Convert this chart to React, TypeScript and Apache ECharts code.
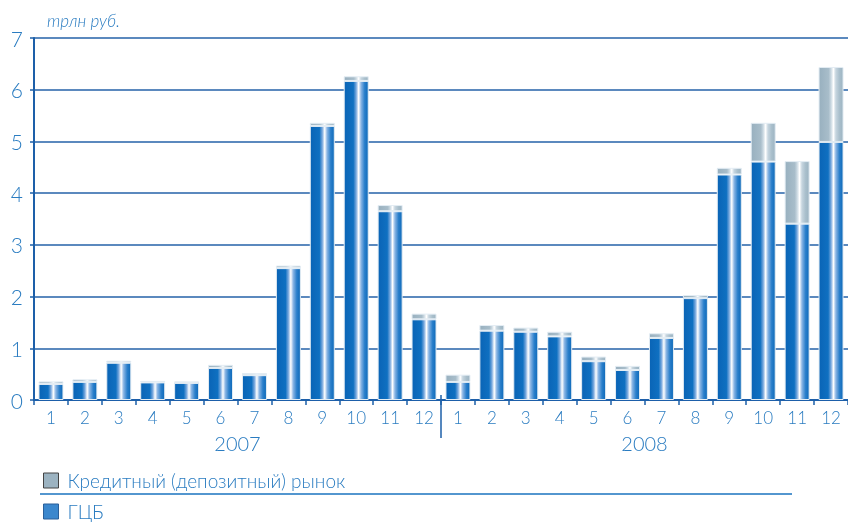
import React, { useEffect, useRef } from 'react';
import * as echarts from 'echarts';

const months = ['1', '2', '3', '4', '5', '6', '7', '8', '9', '10', '11', '12', '1', '2', '3', '4', '5', '6', '7', '8', '9', '10', '11', '12'];
const years = ['2007', '2008'];
const gcbValues = [0.31, 0.35, 0.72, 0.34, 0.33, 0.62, 0.48, 2.55, 5.3, 6.17, 3.65, 1.56, 0.35, 1.34, 1.32, 1.23, 0.75, 0.58, 1.2, 1.97, 4.36, 4.61, 3.41, 4.99];
const creditValues = [0.05, 0.05, 0.04, 0.03, 0.03, 0.06, 0.04, 0.05, 0.06, 0.09, 0.12, 0.11, 0.14, 0.11, 0.08, 0.09, 0.09, 0.08, 0.09, 0.06, 0.13, 0.75, 1.21, 1.45];
const seriesNames = ['ГЦБ', 'Кредитный (депозитный) рынок'];
const unitLabel = 'трлн руб.';

const AXIS = '#1d5fa9';
const TEXT = '#2a7cc1';
const FONT = 'Lato, "Noto Sans", sans-serif';

export default function App() {
  const ref = useRef<HTMLDivElement>(null);
  useEffect(() => {
    if (!ref.current) return;
    const chart = echarts.init(ref.current, undefined, { renderer: 'svg' });
    const blueGrad = new echarts.graphic.LinearGradient(0, 0, 1, 0, [
      { offset: 0, color: '#0a64b6' },
      { offset: 0.38, color: '#0f70c1' },
      { offset: 0.5, color: '#7aa9de' },
      { offset: 0.6, color: '#ffffff' },
      { offset: 0.7, color: '#8ab5e4' },
      { offset: 0.85, color: '#2a7fcb' },
      { offset: 1, color: '#0d69b9' },
    ]);
    const grayGrad = new echarts.graphic.LinearGradient(0, 0, 1, 0, [
      { offset: 0, color: '#98b0bf' },
      { offset: 0.4, color: '#a8bdca' },
      { offset: 0.5, color: '#cbd9e2' },
      { offset: 0.6, color: '#ffffff' },
      { offset: 0.7, color: '#c6d5df' },
      { offset: 0.85, color: '#a9bfcc' },
      { offset: 1, color: '#9db4c2' },
    ]);
    const legendText = { color: TEXT, fontSize: 19, fontFamily: FONT, fontWeight: 300 as any, padding: [0, 0, 0, 4] };
    chart.setOption({
      animation: false,
      title: {
        text: unitLabel,
        left: 47,
        top: 12,
        padding: 0,
        textStyle: { color: TEXT, fontSize: 17, fontStyle: 'italic', fontWeight: 300, fontFamily: FONT },
      },
      grid: { left: 34, top: 38, width: 816, height: 362 },
      legend: [
        {
          left: 43,
          top: 471,
          padding: 0,
          itemWidth: 15,
          itemHeight: 15,
          icon: 'rect',
          selectedMode: false,
          data: [{ name: seriesNames[1], itemStyle: { color: '#9cb3c1', borderColor: '#444', borderWidth: 1 } }],
          textStyle: legendText,
        },
        {
          left: 43,
          top: 502,
          padding: 0,
          itemWidth: 15,
          itemHeight: 15,
          icon: 'rect',
          selectedMode: false,
          data: [{ name: seriesNames[0], itemStyle: { color: '#3b87cd', borderColor: '#2a5f99', borderWidth: 1 } }],
          textStyle: legendText,
        },
      ],
      xAxis: [
        {
          type: 'category',
          data: months,
          boundaryGap: true,
          axisLine: { lineStyle: { color: AXIS, width: 2 } },
          axisTick: { show: true, length: 5, lineStyle: { color: AXIS, width: 1.5 } },
          axisLabel: { color: TEXT, fontSize: 17, fontFamily: FONT, fontWeight: 300, margin: 9, interval: 0 },
          splitLine: { show: false },
        },
        {
          type: 'category',
          data: years,
          position: 'bottom',
          axisLine: { show: false },
          axisTick: { show: false },
          axisLabel: { color: TEXT, fontSize: 20, fontFamily: FONT, fontWeight: 300, margin: 33 },
          splitLine: { show: false },
        },
      ],
      yAxis: {
        type: 'value',
        min: 0,
        max: 7,
        interval: 1,
        axisLine: { show: true, lineStyle: { color: AXIS, width: 2 } },
        axisTick: { show: true, length: 4, lineStyle: { color: AXIS, width: 1.5 } },
        axisLabel: { color: TEXT, fontSize: 21, fontFamily: FONT, fontWeight: 300, margin: 11 },
        splitLine: { show: true, lineStyle: { color: '#2462a9', width: 1.5 } },
      },
      series: [
        {
          name: seriesNames[0],
          type: 'bar',
          stack: 'total',
          barWidth: 25,
          data: gcbValues,
          itemStyle: { color: blueGrad, borderColor: '#e4edf4', borderWidth: 1 },
        },
        {
          name: seriesNames[1],
          type: 'bar',
          stack: 'total',
          barWidth: 25,
          data: creditValues,
          itemStyle: { color: grayGrad, borderColor: '#e4edf4', borderWidth: 1 },
        },
      ],
    });
    const x11 = chart.convertToPixel({ xAxisIndex: 0 }, 11) as number;
    const x12 = chart.convertToPixel({ xAxisIndex: 0 }, 12) as number;
    const y0 = chart.convertToPixel({ yAxisIndex: 0 }, 0) as number;
    const sepX = (x11 + x12) / 2;
    chart.setOption({
      graphic: [
        {
          type: 'line',
          shape: { x1: sepX, y1: y0 - 5, x2: sepX, y2: y0 + 38 },
          style: { stroke: AXIS, lineWidth: 1.5 },
        },
        {
          type: 'line',
          shape: { x1: 40, y1: 494, x2: 792, y2: 494 },
          style: { stroke: '#1a73bf', lineWidth: 1.5 },
        },
      ],
    });
    return () => chart.dispose();
  }, []);
  return <div ref={ref} style={{ position: 'fixed', left: 0, top: 0, width: 848, height: 523 }} />;
}
